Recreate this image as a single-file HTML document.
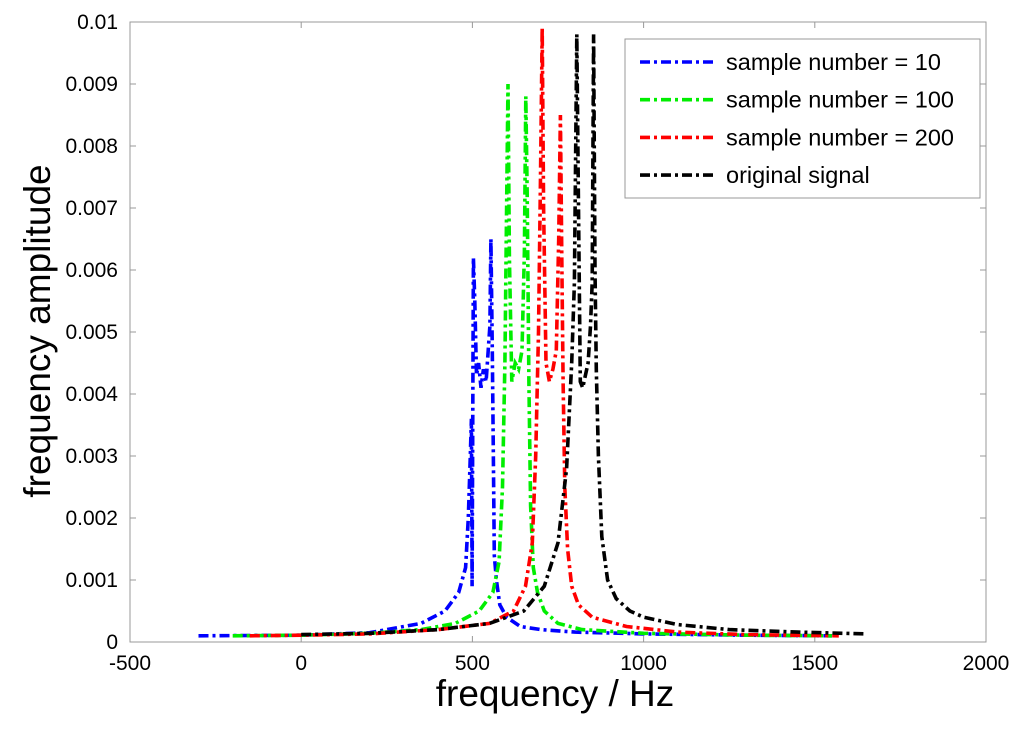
<!DOCTYPE html>
<html><head><meta charset="utf-8"><style>
body{margin:0;background:#fff;}
svg{display:block;font-family:"Liberation Sans",Arial,sans-serif;}
</style></head><body>
<svg id="chart" width="1024" height="737">
<rect x="0" y="0" width="1024" height="737" fill="#fff"/>
<g id="ticks"></g>
<g id="series"></g>
<rect x="130" y="22" width="856" height="620" fill="none" stroke="#999" stroke-width="1"/>
<text x="555" y="706" font-size="37" text-anchor="middle">frequency  / Hz</text>
<text transform="translate(50,331) rotate(-90)" font-size="37" text-anchor="middle">frequency amplitude</text>
<g id="legend"></g>
</svg>
<script>
const xTicks=[-500,0,500,1000,1500,2000];
const yTicks=[0,0.001,0.002,0.003,0.004,0.005,0.006,0.007,0.008,0.009,0.01];
const yTickLabels=["0","0.001","0.002","0.003","0.004","0.005","0.006","0.007","0.008","0.009","0.01"];
const seriesNames=["sample number = 10","sample number = 100","sample number = 200","original signal"];
const seriesColors=["#0000ff","#00ee00","#ff0000","#000000"];
const blueFreq=[-300,0,200,350,420,460,480,488,494,497,499,503,507,512,518,525,532,540,546,551,554,558,561,564,570,580,600,640,700,800,1000,1300,1550];
const blueAmp=[0.0001,0.00011,0.00015,0.0003,0.0005,0.0008,0.0012,0.0020,0.0030,0.0036,0.0009,0.0062,0.0055,0.0043,0.0045,0.0041,0.0044,0.0042,0.0047,0.0051,0.0065,0.0047,0.0031,0.0014,0.0010,0.0006,0.0004,0.00025,0.0002,0.00016,0.00013,0.00011,0.0001];
const greenFreq=[-200,0,200,350,450,520,560,578,588,595,600,604,608,615,625,635,645,652,656,660,665,670,678,690,710,750,820,1000,1300,1550];
const greenAmp=[0.0001,0.00011,0.00014,0.0002,0.0003,0.0005,0.0008,0.0013,0.0025,0.0045,0.0070,0.009,0.0062,0.0042,0.0045,0.0044,0.0047,0.0063,0.0088,0.0072,0.0042,0.0022,0.0012,0.0008,0.0005,0.0003,0.0002,0.00014,0.00011,0.0001];
const redFreq=[-150,0,200,400,550,620,655,675,685,693,699,704,708,715,725,735,745,752,757,761,765,770,778,790,810,850,950,1100,1300,1570];
const redAmp=[0.0001,0.00011,0.00013,0.0002,0.0003,0.0005,0.0009,0.0016,0.0030,0.0050,0.0075,0.0099,0.0070,0.0045,0.0042,0.0044,0.0047,0.0065,0.0085,0.0062,0.0042,0.0025,0.0015,0.0009,0.0006,0.0004,0.00025,0.00016,0.00012,0.0001];
const blackFreq=[0,200,400,550,650,710,750,775,790,798,805,810,815,822,830,838,845,850,854,858,862,868,878,895,920,960,1000,1100,1250,1450,1650];
const blackAmp=[0.00012,0.00014,0.0002,0.0003,0.0005,0.0009,0.0016,0.0028,0.0045,0.0058,0.0098,0.0070,0.0042,0.0041,0.0043,0.0045,0.0051,0.0058,0.0098,0.0060,0.0044,0.0030,0.0017,0.0010,0.0007,0.0005,0.0004,0.00028,0.0002,0.00016,0.00013];
const allFreq=[blueFreq,greenFreq,redFreq,blackFreq];
const allAmp=[blueAmp,greenAmp,redAmp,blackAmp];

const X0=130,X1=986,Y0=642,Y1=22;
const xs=v=>X0+(v+500)/2500*(X1-X0);
const ys=v=>Y0-v/0.01*(Y0-Y1);
const NS="http://www.w3.org/2000/svg";
const tg=document.getElementById('ticks');
xTicks.forEach((t,i)=>{
  const x=xs(t);
  const l=document.createElementNS(NS,'path');
  l.setAttribute('d',`M${x},${Y0}v-6M${x},${Y1}v6`);
  l.setAttribute('stroke','#999');
  
  
  tg.appendChild(l);
  const tx=document.createElementNS(NS,'text');
  tx.setAttribute('x',x);tx.setAttribute('y',670);tx.setAttribute('font-size','21');tx.setAttribute('text-anchor','middle');
  tx.textContent=String(t);
  
  
  tg.appendChild(tx);
});
yTicks.forEach((t,i)=>{
  const y=ys(t);
  const l=document.createElementNS(NS,'path');
  l.setAttribute('d',`M${X0},${y}h6M${X1},${y}h-6`);
  l.setAttribute('stroke','#999');
  
  
  tg.appendChild(l);
  const tx=document.createElementNS(NS,'text');
  tx.setAttribute('x',118);tx.setAttribute('y',y+7);tx.setAttribute('font-size','21');tx.setAttribute('text-anchor','end');
  tx.textContent=yTickLabels[i];
  
  
  tg.appendChild(tx);
});
const sg=document.getElementById('series');
const dash="10,4,3,4";
allFreq.forEach((fr,s)=>{
  const p=document.createElementNS(NS,'polyline');
  p.setAttribute('points',fr.map((f,i)=>xs(f).toFixed(1)+','+ys(allAmp[s][i]).toFixed(1)).join(' '));
  p.setAttribute('fill','none');p.setAttribute('stroke',seriesColors[s]);
  p.setAttribute('stroke-width','3.6');p.setAttribute('stroke-dasharray',dash);
  
  
  sg.appendChild(p);
});
const lg=document.getElementById('legend');
const box=document.createElementNS(NS,'rect');
box.setAttribute('x',625);box.setAttribute('y',39);box.setAttribute('width',355);box.setAttribute('height',159);
box.setAttribute('fill','#fff');box.setAttribute('stroke','#999');


lg.appendChild(box);
seriesNames.forEach((n,i)=>{
  const y=62+i*37.7;
  const l=document.createElementNS(NS,'line');
  l.setAttribute('x1',640);l.setAttribute('x2',717);l.setAttribute('y1',y);l.setAttribute('y2',y);
  l.setAttribute('stroke',seriesColors[i]);l.setAttribute('stroke-width','3.6');l.setAttribute('stroke-dasharray',dash);
  
  
  lg.appendChild(l);
  const t=document.createElementNS(NS,'text');
  t.setAttribute('x',726);t.setAttribute('y',y+8);t.setAttribute('font-size','23.5');
  t.textContent=n;
  
  
  lg.appendChild(t);
});
</script>
</body></html>
